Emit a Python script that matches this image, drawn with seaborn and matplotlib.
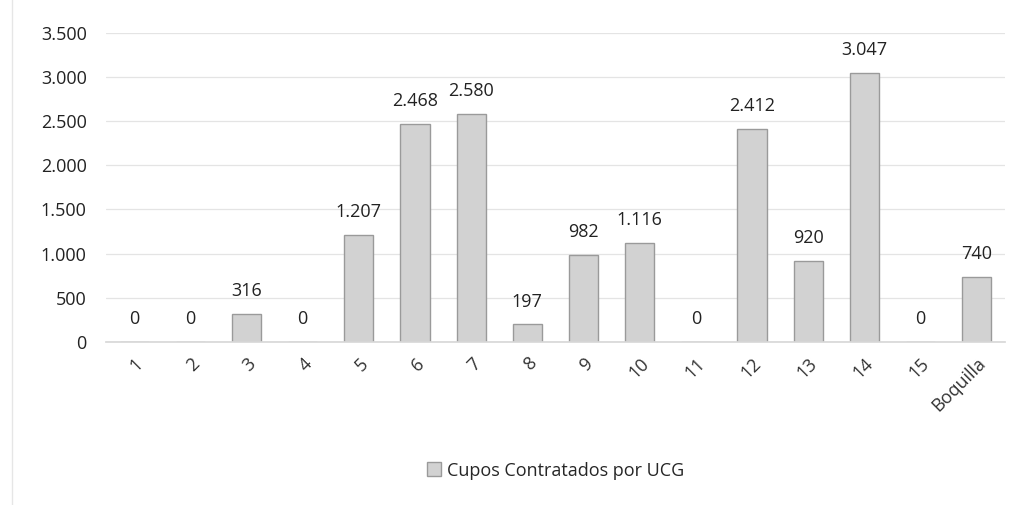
import matplotlib
matplotlib.use("Agg")
import matplotlib.pyplot as plt
import matplotlib.ticker as mticker
import seaborn as sns
import pandas as pd

categories = ["1", "2", "3", "4", "5", "6", "7", "8", "9", "10",
              "11", "12", "13", "14", "15", "Boquilla"]
cupos = [0, 0, 316, 0, 1207, 2468, 2580, 197, 982, 1116,
         0, 2412, 920, 3047, 0, 740]
series_name = "Cupos Contratados por UCG"

df = pd.DataFrame({"UCG": categories, "Cupos": cupos})

sns.set_theme(style="white")
plt.rcParams["font.family"] = ["Open Sans", "DejaVu Sans"]

fig = plt.figure(figsize=(10.2, 5.05), dpi=100)
ax = fig.add_axes([0.104, 0.323, 0.881, 0.612])

sns.barplot(data=df, x="UCG", y="Cupos", ax=ax, color="#d2d2d2",
            edgecolor="#9a9a9a", linewidth=1.0, width=0.52,
            label=series_name)

ax.set_ylim(0, 3500)
ax.set_xlim(-0.5, len(categories) - 0.5)
ax.yaxis.set_major_locator(mticker.MultipleLocator(500))
ax.yaxis.set_major_formatter(
    mticker.FuncFormatter(lambda v, p: f"{int(v):,}".replace(",", ".")))
ax.grid(axis="y", color="#e4e4e4", linewidth=0.9)
ax.set_axisbelow(True)
for s in ["top", "right", "left"]:
    ax.spines[s].set_visible(False)
ax.spines["bottom"].set_color("#d8d8d8")
ax.set_xlabel("")
ax.set_ylabel("")
ax.tick_params(axis="y", labelsize=13, colors="#222222", length=0, pad=14)
ax.tick_params(axis="x", labelsize=13, colors="#333333", length=0, pad=9)
for lbl in ax.get_xticklabels():
    lbl.set_rotation(45)
    lbl.set_ha("right")
    lbl.set_rotation_mode("anchor")

for i, v in enumerate(cupos):
    ax.annotate(f"{v:,}".replace(",", "."), (i, v), xytext=(0, 10),
                textcoords="offset points", ha="center", va="bottom",
                fontsize=13, color="#222222")

ax.legend(loc="upper center", bbox_to_anchor=(0.5, -0.335), frameon=False,
          fontsize=13, handlelength=0.8, handleheight=0.8, handletextpad=0.3)

# faint frame around the chart area
fig.add_artist(plt.Rectangle((0.012, -0.02), 1.1, 1.1, fill=False,
                             edgecolor="#e6e6e6", linewidth=1.0,
                             transform=fig.transFigure))

fig.savefig("out.png", dpi=100, facecolor="white")
